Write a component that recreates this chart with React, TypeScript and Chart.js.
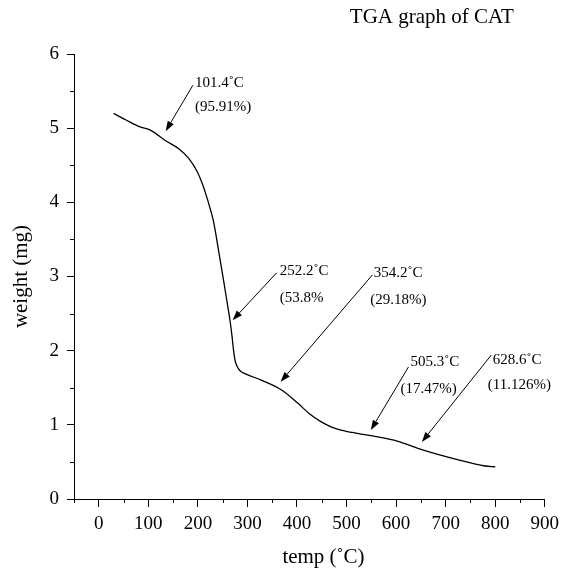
import React, { useEffect, useRef } from "react";
import { Chart, registerables } from "chart.js";

Chart.register(...registerables);

const temps = [30, 55, 82, 105, 135, 162, 182, 199, 209, 218, 225, 231, 236, 241, 247, 253, 259, 265, 269, 272, 275, 279, 285, 295, 329, 369, 402, 425, 449, 470, 489, 522, 560, 602, 655, 722, 779, 800];
const weights = [5.2, 5.11, 5.02, 4.97, 4.83, 4.72, 4.59, 4.41, 4.25, 4.07, 3.91, 3.76, 3.58, 3.38, 3.14, 2.9, 2.65, 2.4, 2.19, 2.0, 1.87, 1.79, 1.73, 1.69, 1.6, 1.47, 1.29, 1.15, 1.04, 0.97, 0.93, 0.885, 0.84, 0.78, 0.66, 0.535, 0.445, 0.435];

const xTickValues = [0, 100, 200, 300, 400, 500, 600, 700, 800, 900];
const xMinorValues = [-50, 50, 150, 250, 350, 450, 550, 650, 750, 850];
const yTickValues = [0, 1, 2, 3, 4, 5, 6];
const yMinorValues = [0.5, 1.5, 2.5, 3.5, 4.5, 5.5];

const chartTitle = "TGA graph of CAT";
const xTitle = "temp (˚C)";
const yTitle = "weight (mg)";

const annotationTemps = ["101.4˚C", "252.2˚C", "354.2˚C", "505.3˚C", "628.6˚C"];
const annotationPercents = ["(95.91%)", "(53.8%", "(29.18%)", "(17.47%)", "(11.126%)"];
// arrow tail / tip in data coordinates
const arrowTails = [[190, 5.58], [359, 3.05], [552, 3.02], [625, 1.78], [792, 1.94]];
const arrowTips = [[135, 4.96], [270, 2.41], [367, 1.58], [549, 0.93], [652, 0.77]];
const tempLabelPos = [[194, 5.61], [365, 3.08], [555, 3.04], [629, 1.84], [795, 1.88]];
const percentLabelPos = [[194, 5.29], [365, 2.71], [548, 2.68], [609, 1.48], [785, 1.54]];

const FONT = "'Liberation Serif', 'Times New Roman', serif";

const extrasPlugin = {
  id: "extras",
  afterDraw(chart: any) {
    const ctx = chart.ctx as CanvasRenderingContext2D;
    const xs = chart.scales.x;
    const ys = chart.scales.y;
    const area = chart.chartArea;
    ctx.save();
    ctx.strokeStyle = "#000";
    ctx.lineWidth = 1;
    // minor ticks
    ctx.beginPath();
    xMinorValues.forEach((v) => {
      const px = Math.round(xs.getPixelForValue(v)) + 0.5;
      ctx.moveTo(px, area.bottom);
      ctx.lineTo(px, area.bottom + 4);
    });
    yMinorValues.forEach((v) => {
      const py = Math.round(ys.getPixelForValue(v)) + 0.5;
      ctx.moveTo(area.left - 4, py);
      ctx.lineTo(area.left, py);
    });
    ctx.stroke();

    // arrows
    ctx.fillStyle = "#000";
    arrowTails.forEach((tail, i) => {
      const tip = arrowTips[i];
      const x1 = xs.getPixelForValue(tail[0]);
      const y1 = ys.getPixelForValue(tail[1]);
      const x2 = xs.getPixelForValue(tip[0]);
      const y2 = ys.getPixelForValue(tip[1]);
      const ang = Math.atan2(y2 - y1, x2 - x1);
      const headLen = 10;
      const headW = 3.5;
      const bx = x2 - headLen * Math.cos(ang);
      const by = y2 - headLen * Math.sin(ang);
      ctx.beginPath();
      ctx.moveTo(x1, y1);
      ctx.lineTo(bx, by);
      ctx.stroke();
      ctx.beginPath();
      ctx.moveTo(x2, y2);
      ctx.lineTo(bx + headW * Math.sin(ang), by - headW * Math.cos(ang));
      ctx.lineTo(bx - headW * Math.sin(ang), by + headW * Math.cos(ang));
      ctx.closePath();
      ctx.fill();
    });

    // annotation text
    ctx.font = "15px " + FONT;
    ctx.textAlign = "left";
    ctx.textBaseline = "middle";
    annotationTemps.forEach((t, i) => {
      ctx.fillText(t, xs.getPixelForValue(tempLabelPos[i][0]), ys.getPixelForValue(tempLabelPos[i][1]));
      ctx.fillText(annotationPercents[i], xs.getPixelForValue(percentLabelPos[i][0]), ys.getPixelForValue(percentLabelPos[i][1]));
    });

    // chart title and x-axis title
    ctx.font = "21px " + FONT;
    ctx.textAlign = "center";
    ctx.fillText(chartTitle, area.left + (area.right - area.left) * 0.76, 17);
    ctx.fillText(xTitle, area.left + (area.right - area.left) * 0.53, area.bottom + 58);
    ctx.restore();
  },
};

export default function App() {
  const ref = useRef<HTMLCanvasElement | null>(null);
  useEffect(() => {
    if (!ref.current) return;
    const chart = new Chart(ref.current, {
      type: "line",
      data: {
        datasets: [
          {
            data: temps.map((t, i) => ({ x: t, y: weights[i] })),
            borderColor: "#000",
            borderWidth: 1.3,
            pointRadius: 0,
            fill: false,
            cubicInterpolationMode: "monotone",
          },
        ],
      },
      options: {
        animation: false,
        responsive: false,
        maintainAspectRatio: false,
        layout: { padding: { left: 0, right: 16, top: 54, bottom: 0 } },
        plugins: { legend: { display: false }, tooltip: { enabled: false }, title: { display: false } },
        scales: {
          x: {
            type: "linear",
            min: -50,
            max: 900,
            afterBuildTicks: (scale: any) => {
              scale.ticks = xTickValues.map((v) => ({ value: v }));
            },
            afterFit: (scale: any) => {
              scale.height = 72;
            },
            grid: { drawOnChartArea: false, drawTicks: true, tickLength: 8, color: "#000", tickColor: "#000" },
            border: { display: true, color: "#000", width: 1 },
            ticks: { color: "#000", font: { family: FONT, size: 19 }, padding: 6, maxRotation: 0, autoSkip: false },
            title: { display: false, text: xTitle },
          },
          y: {
            type: "linear",
            min: 0,
            max: 6,
            afterBuildTicks: (scale: any) => {
              scale.ticks = yTickValues.map((v) => ({ value: v }));
            },
            afterFit: (scale: any) => {
              scale.width = 74;
            },
            grid: { drawOnChartArea: false, drawTicks: true, tickLength: 7, color: "#000", tickColor: "#000" },
            border: { display: true, color: "#000", width: 1 },
            ticks: { color: "#000", font: { family: FONT, size: 19 }, padding: 8 },
            title: { display: true, text: yTitle, color: "#000", font: { family: FONT, size: 21 }, padding: { top: 9, bottom: 0 } },
          },
        },
      },
      plugins: [extrasPlugin],
    });
    return () => chart.destroy();
  }, []);
  return (
    <div style={{ position: "absolute", left: 0, top: 0, width: 565, height: 571, background: "#fff" }}>
      <canvas ref={ref} width={565} height={571} style={{ display: "block", width: 565, height: 571 }} />
    </div>
  );
}
